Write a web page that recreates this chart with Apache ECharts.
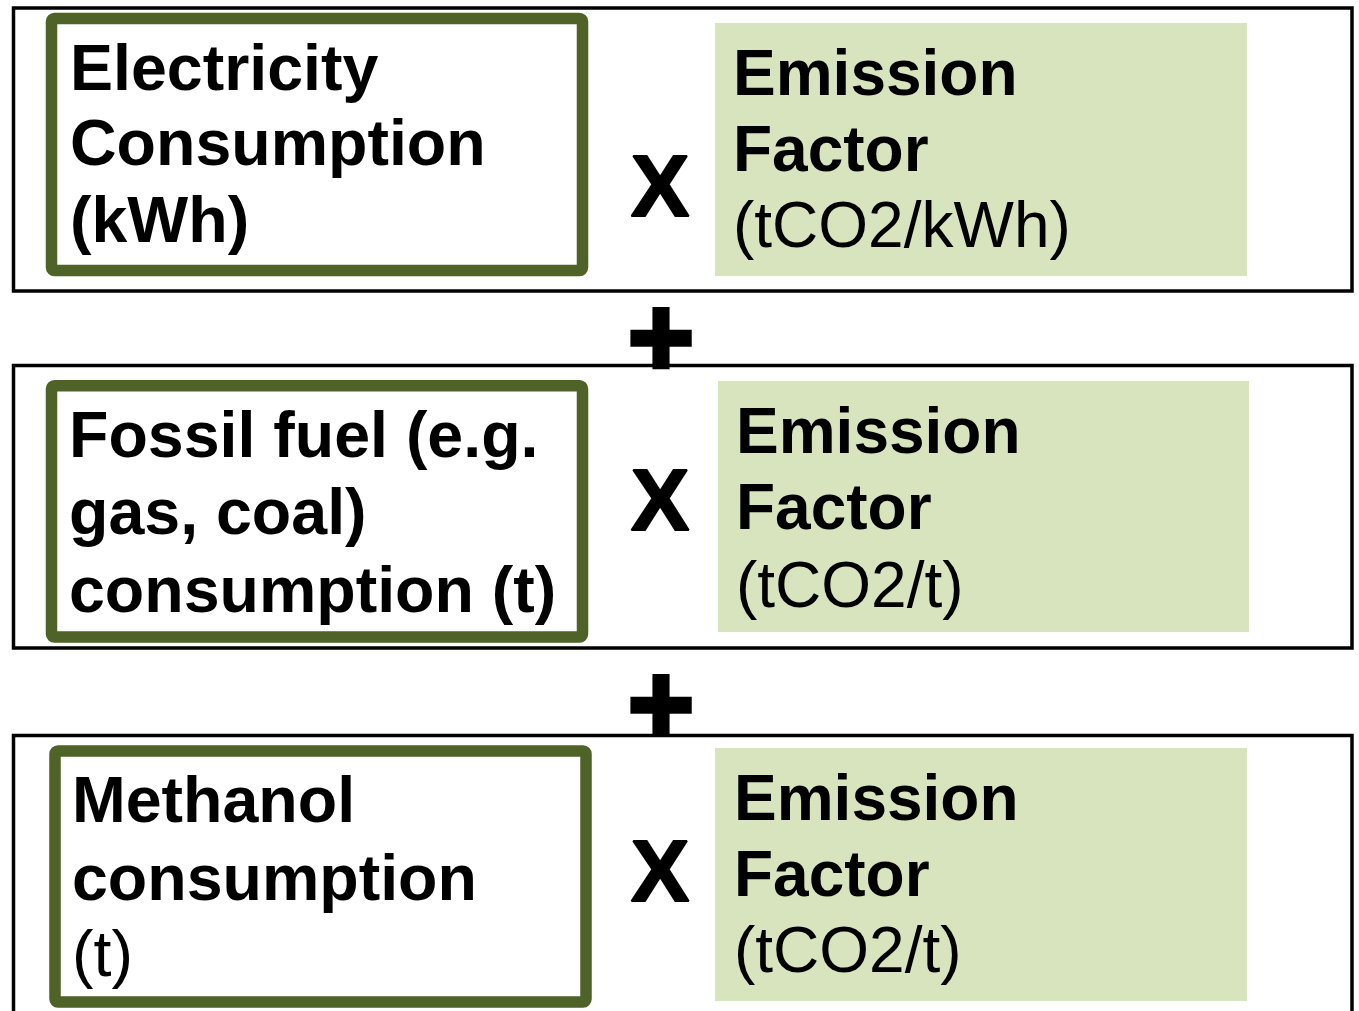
<!DOCTYPE html>
<html><head><meta charset="utf-8">
<script src="https://cdn.jsdelivr.net/npm/echarts@6/dist/echarts.min.js"></script>
<style>html,body{margin:0;padding:0;background:#fff;overflow:hidden}#c{width:1359px;height:1011px}</style>
</head><body><div id="c"></div>
<script>
// ---- content ----
const inputLines = [
  ["Electricity", "Consumption", "(kWh)"],
  ["Fossil fuel (e.g.", "gas, coal)", "consumption (t)"],
  ["Methanol", "consumption", "(t)"]
];
const inputBold = [[true, true, true], [true, true, true], [true, true, false]];
const factorLines = [
  ["Emission", "Factor", "(tCO2/kWh)"],
  ["Emission", "Factor", "(tCO2/t)"],
  ["Emission", "Factor", "(tCO2/t)"]
];
const factorBold = [[true, true, false], [true, true, false], [true, true, false]];
const multiplySigns = ["X", "X", "X"];
const plusSigns = ["+", "+"];

// ---- layout ----
const FONT = "'Liberation Sans', Arial, sans-serif";
const FS_LEFT = 64.5;
const FS_RIGHT = 64;
const MID = 0.29;
const outerBoxes = [{ y: 8, h: 283 }, { y: 365.5, h: 282.5 }, { y: 735.5, h: 300 }];
const greenBoxes = [{ x: 51.5, y: 18.5, w: 531, h: 252 }, { x: 51.5, y: 385.7, w: 531, h: 251.3 }, { x: 55, y: 751, w: 531, h: 251 }];
const fillBoxes = [{ x: 715, y: 23, w: 532, h: 253 }, { x: 718, y: 381, w: 531, h: 251 }, { x: 715, y: 748, w: 532, h: 253 }];
const leftBase = [[91, 166, 243], [458, 535, 613], [823, 901, 977]];
const leftX = [70, 69, 72];
const rightBase = [[96, 172, 248], [454, 530, 608], [821, 897, 973]];
const rightX = [733, 736, 734];
const xCenters = [[660, 192], [660, 505.5], [660, 876.5]];
const plusCenters = [[661, 345], [661, 712]];

function txt(x, baseline, text, bold, fs) {
  return {
    type: 'text', x: x, y: baseline - MID * fs, z: 10,
    style: {
      text: text, fill: '#000', fontSize: fs, fontFamily: FONT,
      fontWeight: bold ? 'bold' : 'normal',
      textAlign: 'left', align: 'left', textVerticalAlign: 'middle', verticalAlign: 'middle'
    }
  };
}

const els = [];
outerBoxes.forEach(b => {
  els.push({ type: 'rect', z: 1, shape: { x: 13.5, y: b.y, width: 1338.5, height: b.h },
    style: { fill: 'none', stroke: '#000', lineWidth: 3.5 } });
});
fillBoxes.forEach(b => {
  els.push({ type: 'rect', z: 2, shape: { x: b.x, y: b.y, width: b.w, height: b.h },
    style: { fill: '#d7e4bd', stroke: null } });
});
greenBoxes.forEach(b => {
  els.push({ type: 'rect', z: 3, shape: { x: b.x, y: b.y, width: b.w, height: b.h, r: 3 },
    style: { fill: '#fff', stroke: '#4f6228', lineWidth: 11.5 } });
});
inputLines.forEach((lines, i) => {
  lines.forEach((t, j) => els.push(txt(leftX[i], leftBase[i][j], t, inputBold[i][j], FS_LEFT)));
});
factorLines.forEach((lines, i) => {
  lines.forEach((t, j) => els.push(txt(rightX[i], rightBase[i][j], t, factorBold[i][j], FS_RIGHT)));
});
multiplySigns.forEach((s, i) => {
  els.push({ type: 'text', x: xCenters[i][0], y: xCenters[i][1], z: 10,
    style: { text: s, fill: '#000', fontSize: 88, fontFamily: FONT, fontWeight: 'bold',
      stroke: '#000', lineWidth: 2,
      textAlign: 'center', align: 'center', textVerticalAlign: 'middle', verticalAlign: 'middle' } });
});
plusSigns.forEach((s, i) => {
  els.push({ type: 'text', x: plusCenters[i][0], y: plusCenters[i][1], z: 10,
    style: { text: s, fill: '#000', fontSize: 113, fontFamily: FONT, fontWeight: 'bold',
      stroke: '#000', lineWidth: 4.7,
      textAlign: 'center', align: 'center', textVerticalAlign: 'middle', verticalAlign: 'middle' } });
});

const chart = echarts.init(document.getElementById('c'), null, { renderer: 'canvas' });
chart.setOption({ animation: false, backgroundColor: '#fff', graphic: { elements: els } });
</script></body></html>
